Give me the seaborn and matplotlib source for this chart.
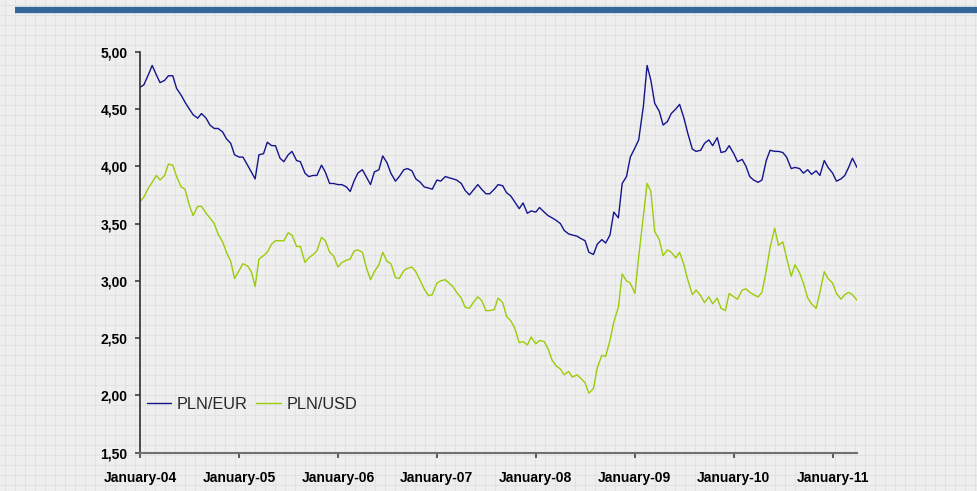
import matplotlib

matplotlib.use("Agg")

import matplotlib.pyplot as plt
import matplotlib.ticker as mticker
import numpy as np
import pandas as pd
import seaborn as sns
from matplotlib.lines import Line2D

# semi-monthly readings, Jan 2004 .. Apr 2011
DATES = pd.date_range("2004-01-01", periods=175, freq="SMS")

PLN_EUR = [
    4.69, 4.71, 4.80, 4.88, 4.80, 4.73, 4.75, 4.79, 4.79, 4.68,
    4.62, 4.56, 4.50, 4.45, 4.42, 4.46, 4.42, 4.36, 4.33, 4.33,
    4.30, 4.24, 4.20, 4.10, 4.08, 4.08, 4.01, 3.95, 3.89, 4.10,
    4.11, 4.21, 4.18, 4.18, 4.07, 4.04, 4.10, 4.13, 4.05, 4.04,
    3.94, 3.91, 3.92, 3.92, 4.01, 3.95, 3.85, 3.85, 3.84, 3.84,
    3.82, 3.78, 3.87, 3.94, 3.97, 3.91, 3.84, 3.95, 3.97, 4.09,
    4.03, 3.94, 3.87, 3.91, 3.97, 3.98, 3.96, 3.89, 3.86, 3.82,
    3.81, 3.80, 3.88, 3.87, 3.91, 3.90, 3.89, 3.88, 3.85, 3.79,
    3.75, 3.79, 3.84, 3.80, 3.76, 3.76, 3.80, 3.84, 3.83, 3.77,
    3.74, 3.69, 3.63, 3.68, 3.59, 3.61, 3.60, 3.64, 3.60, 3.57,
    3.55, 3.53, 3.50, 3.44, 3.41, 3.40, 3.39, 3.37, 3.35, 3.25,
    3.23, 3.32, 3.36, 3.33, 3.40, 3.60, 3.55, 3.85, 3.91, 4.08,
    4.16, 4.23, 4.52, 4.88, 4.75, 4.55, 4.48, 4.36, 4.39, 4.46,
    4.50, 4.54, 4.42, 4.29, 4.15, 4.13, 4.14, 4.20, 4.23, 4.18,
    4.25, 4.12, 4.13, 4.18, 4.11, 4.04, 4.06, 4.00, 3.91, 3.88,
    3.86, 3.88, 4.05, 4.14, 4.13, 4.13, 4.12, 4.08, 3.98, 3.99,
    3.98, 3.94, 3.97, 3.93, 3.96, 3.92, 4.05, 3.99, 3.94, 3.87,
    3.89, 3.92, 3.99, 4.07, 3.99,
]

PLN_USD = [
    3.69, 3.73, 3.81, 3.86, 3.92, 3.88, 3.92, 4.02, 4.01, 3.91,
    3.82, 3.80, 3.66, 3.57, 3.65, 3.65, 3.59, 3.55, 3.50, 3.41,
    3.34, 3.25, 3.17, 3.02, 3.09, 3.15, 3.13, 3.08, 2.95, 3.19,
    3.22, 3.25, 3.32, 3.35, 3.35, 3.35, 3.42, 3.40, 3.30, 3.30,
    3.16, 3.20, 3.23, 3.26, 3.38, 3.35, 3.25, 3.22, 3.12, 3.16,
    3.18, 3.19, 3.26, 3.27, 3.25, 3.12, 3.01, 3.08, 3.14, 3.25,
    3.17, 3.15, 3.03, 3.02, 3.09, 3.11, 3.12, 3.08, 3.00, 2.93,
    2.87, 2.88, 2.98, 3.00, 3.01, 2.98, 2.95, 2.90, 2.85, 2.77,
    2.76, 2.81, 2.86, 2.83, 2.74, 2.74, 2.75, 2.85, 2.81, 2.69,
    2.65, 2.59, 2.46, 2.47, 2.44, 2.51, 2.45, 2.48, 2.47, 2.41,
    2.31, 2.26, 2.23, 2.18, 2.21, 2.16, 2.18, 2.15, 2.11, 2.02,
    2.06, 2.24, 2.35, 2.34, 2.48, 2.64, 2.77, 3.06, 3.00, 2.98,
    2.89, 3.21, 3.56, 3.85, 3.78, 3.43, 3.36, 3.22, 3.27, 3.25,
    3.20, 3.25, 3.14, 3.01, 2.88, 2.92, 2.87, 2.81, 2.86, 2.80,
    2.85, 2.76, 2.74, 2.89, 2.86, 2.84, 2.92, 2.93, 2.90, 2.88,
    2.86, 2.90, 3.09, 3.29, 3.46, 3.31, 3.34, 3.20, 3.04, 3.14,
    3.07, 2.98, 2.85, 2.80, 2.76, 2.90, 3.08, 3.02, 2.98, 2.89,
    2.84, 2.88, 2.90, 2.88, 2.83,
]

SERIES = ["PLN/EUR", "PLN/USD"]
COLORS = ["#14148c", "#9acc0a"]
YEAR_TICKS = pd.date_range("2004-01-01", "2011-01-01", freq="YS")

sns.set_theme(style="white")
plt.rcParams["font.family"] = ["Liberation Sans", "DejaVu Sans"]

df = pd.concat(
    [
        pd.DataFrame({"date": DATES, "rate": PLN_EUR, "pair": SERIES[0]}),
        pd.DataFrame({"date": DATES, "rate": PLN_USD, "pair": SERIES[1]}),
    ]
)

fig = plt.figure(figsize=(9.77, 4.91), dpi=100)
fig.patch.set_facecolor("#efefef")

# squared paper background
bg = fig.add_axes([0, 0, 1, 1], zorder=-5)
bg.set_xlim(0, 977)
bg.set_ylim(491, 0)
bg.vlines(np.arange(5, 977, 10), 0, 491, color="#e2e2e2", lw=0.8)
bg.hlines(np.arange(5, 491, 10), 0, 977, color="#e2e2e2", lw=0.8)
bg.axis("off")

# blue rule across the top
fig.add_artist(Line2D([15 / 977, 1], [1 - 10.3 / 491] * 2, color="#336699", lw=4.5,
                      solid_capstyle="butt", transform=fig.transFigure))

ax = fig.add_axes([0.1433, 0.078, 0.7339, 0.8167])
ax.set_facecolor("none")
sns.lineplot(data=df, x="date", y="rate", hue="pair", palette=COLORS, lw=1.0, ax=ax)

ax.set_xlim(pd.Timestamp("2004-01-01"), pd.Timestamp("2011-04-01"))
ax.set_ylim(1.5, 5.0)
ax.yaxis.set_major_locator(mticker.MultipleLocator(0.5))
ax.yaxis.set_major_formatter(mticker.FuncFormatter(lambda v, _: f"{v:.2f}".replace(".", ",")))
ax.set_xticks(YEAR_TICKS)
ax.set_xticklabels([f"January-{d:%y}" for d in YEAR_TICKS])
ax.set_xlabel("")
ax.set_ylabel("")

for side in ["top", "right"]:
    ax.spines[side].set_visible(False)
ax.spines["left"].set_color("#303030")
ax.spines["bottom"].set_color("#707070")
ax.spines["left"].set_linewidth(1.2)
ax.spines["bottom"].set_linewidth(1.5)
ax.tick_params(axis="both", which="major", direction="out", length=3.5, width=1.2,
               bottom=True, left=True, colors="#404040", labelcolor="black",
               labelsize=10)
ax.tick_params(axis="x", pad=10)
ax.tick_params(axis="y", pad=5.5)
for lab in ax.get_xticklabels() + ax.get_yticklabels():
    lab.set_fontweight("bold")

ax.legend(
    title=None, loc="center left", bbox_to_anchor=(0.0, 0.121), ncol=2, frameon=False,
    fontsize=11.7, handlelength=1.5, handletextpad=0.35, columnspacing=0.55,
    borderaxespad=0, borderpad=0.4,
)

fig.savefig("out.png", dpi=100, facecolor=fig.get_facecolor())
